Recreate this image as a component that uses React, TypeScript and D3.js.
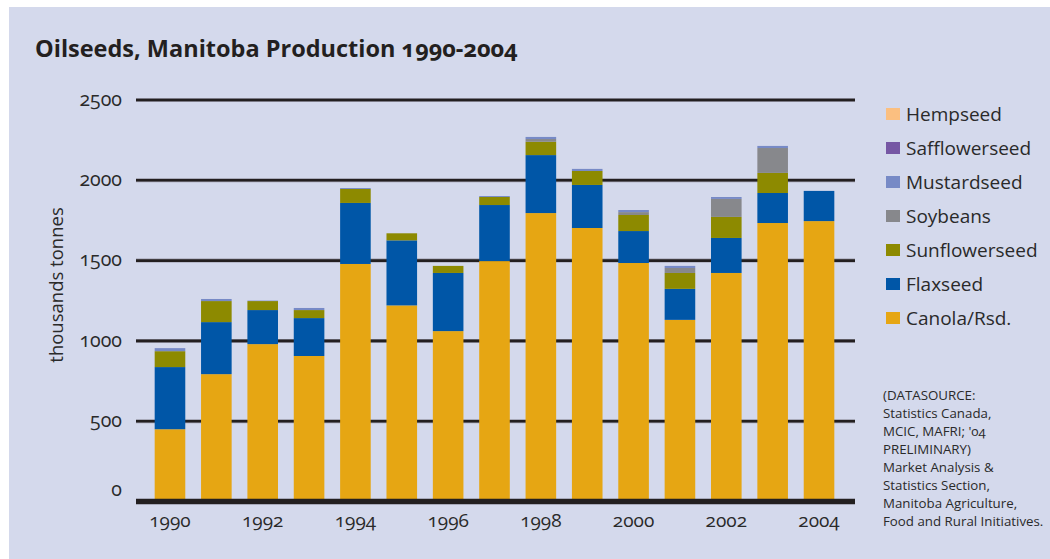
import React from "react";
import * as d3 from "d3";

const years = ["1990","1991","1992","1993","1994","1995","1996","1997","1998","1999","2000","2001","2002","2003","2004"];
const canola = [450, 793, 980, 906, 1479, 1221, 1061, 1497, 1796, 1703, 1485, 1131, 1423, 1734, 1746];
const flaxseed = [387, 324, 212, 236, 380, 405, 362, 349, 361, 268, 199, 193, 218, 187, 188];
const sunflowerseed = [99, 131, 56, 50, 87, 44, 44, 50, 83, 87, 100, 99, 131, 125, 0];
const soybeans = [0, 0, 0, 0, 0, 0, 0, 0, 17, 0, 18, 31, 112, 155, 0];
const mustardseed = [19, 13, 3, 13, 6, 0, 0, 6, 13, 13, 13, 13, 12, 13, 0];
const safflowerseed = [0, 0, 0, 0, 0, 0, 0, 0, 0, 0, 0, 0, 0, 0, 0];
const hempseed = [0, 0, 0, 0, 0, 0, 0, 0, 0, 0, 0, 0, 0, 0, 0];

const seriesNames = ["Canola/Rsd.", "Flaxseed", "Sunflowerseed", "Soybeans", "Mustardseed", "Safflowerseed", "Hempseed"];
const seriesValues = [canola, flaxseed, sunflowerseed, soybeans, mustardseed, safflowerseed, hempseed];
const seriesColors = ["#e6a613", "#0056a7", "#8d8a00", "#87888c", "#778ac6", "#7657a4", "#fbbf80"];
const yTicks = [0, 500, 1000, 1500, 2000, 2500];
const xLabels = ["1990","1992","1994","1996","1998","2000","2002","2004"];
const sourceLines = ["(DATASOURCE:", "Statistics Canada,", "MCIC, MAFRI; '04", "PRELIMINARY)", "Market Analysis &", "Statistics Section,", "Manitoba Agriculture,", "Food and Rural Initiatives."];

const FONT = "'Open Sans', 'Fira Sans', sans-serif";

export default function App() {
  const x = d3.scaleBand<string>().domain(years).range([146.8, 842.2]).paddingInner(0.34).paddingOuter(0.17);
  const y = d3.scaleLinear().domain([0, 2500]).range([501.5, 100]);

  const rows = years.map((yr, i) => {
    const r: any = { year: yr };
    seriesNames.forEach((n, k) => (r[n] = seriesValues[k][i]));
    return r;
  });
  const stack = d3.stack<any>().keys(seriesNames)(rows);

  return (
    <svg width={1050} height={559} style={{ position: "absolute", left: 0, top: 0 }} fontFamily={FONT}>
      <rect x={0} y={0} width={1050} height={559} fill="#ffffff" />
      <rect x={9} y={7} width={1041} height={552} fill="#d4d9ec" />
      <text x={35} y={57} fontSize={23.5} fontWeight={700} fill="#231f20" style={{ fontFeatureSettings: "'onum'" }}>
        Oilseeds, Manitoba Production 1990-2004
      </text>
      {yTicks.filter((t) => t > 0).map((t) => (
        <g key={t}>
          <line x1={136} x2={855} y1={y(t)} y2={y(t)} stroke="#9a9aa8" strokeWidth={4} />
          <line x1={136} x2={855} y1={y(t)} y2={y(t)} stroke="#231f20" strokeWidth={2.6} />
        </g>
      ))}
      {stack.map((s, k) => (
        <g key={seriesNames[k]} fill={seriesColors[k]}>
          {s.map((d, i) =>
            d[1] - d[0] > 0 ? (
              <rect key={i} x={x(years[i])} width={x.bandwidth()} y={y(d[1])} height={y(d[0]) - y(d[1])} />
            ) : null
          )}
        </g>
      ))}
      <line x1={136} x2={855} y1={y(0)} y2={y(0)} stroke="#231f20" strokeWidth={5.5} />
      {yTicks.map((t) => (
        <text key={t} x={122} y={t === 0 ? y(t) - 12 : y(t) - 1} dy="0.35em" textAnchor="end" fontSize={19.5} fill="#2a2a2a" style={{ fontFeatureSettings: "'onum'" }}>
          {t}
        </text>
      ))}
      <text transform={`translate(63,${285}) rotate(-90)`} textAnchor="middle" fontSize={18.5} fill="#2a2a2a">
        thousands tonnes
      </text>
      {xLabels.map((l) => (
        <text key={l} x={(x(l) as number) + x.bandwidth() / 2} y={527} textAnchor="middle" fontSize={19} fill="#2a2a2a" style={{ fontFeatureSettings: "'onum'" }}>
          {l}
        </text>
      ))}
      {seriesNames.slice().reverse().map((n, j) => {
        const k = seriesNames.length - 1 - j;
        const cy = 114 + j * 34;
        return (
          <g key={n}>
            <rect x={886} y={cy - 6} width={14} height={12} fill={seriesColors[k]} />
            <text x={906} y={cy} dy="0.35em" fontSize={19} fill="#2a2a2a">{n}</text>
          </g>
        );
      })}
      {sourceLines.map((l, i) => (
        <text key={i} x={883} y={395 + i * 18} dy="0.35em" fontSize={13.3} fill="#2a2a2a" style={{ fontFeatureSettings: "'onum'" }}>
          {l}
        </text>
      ))}
    </svg>
  );
}
